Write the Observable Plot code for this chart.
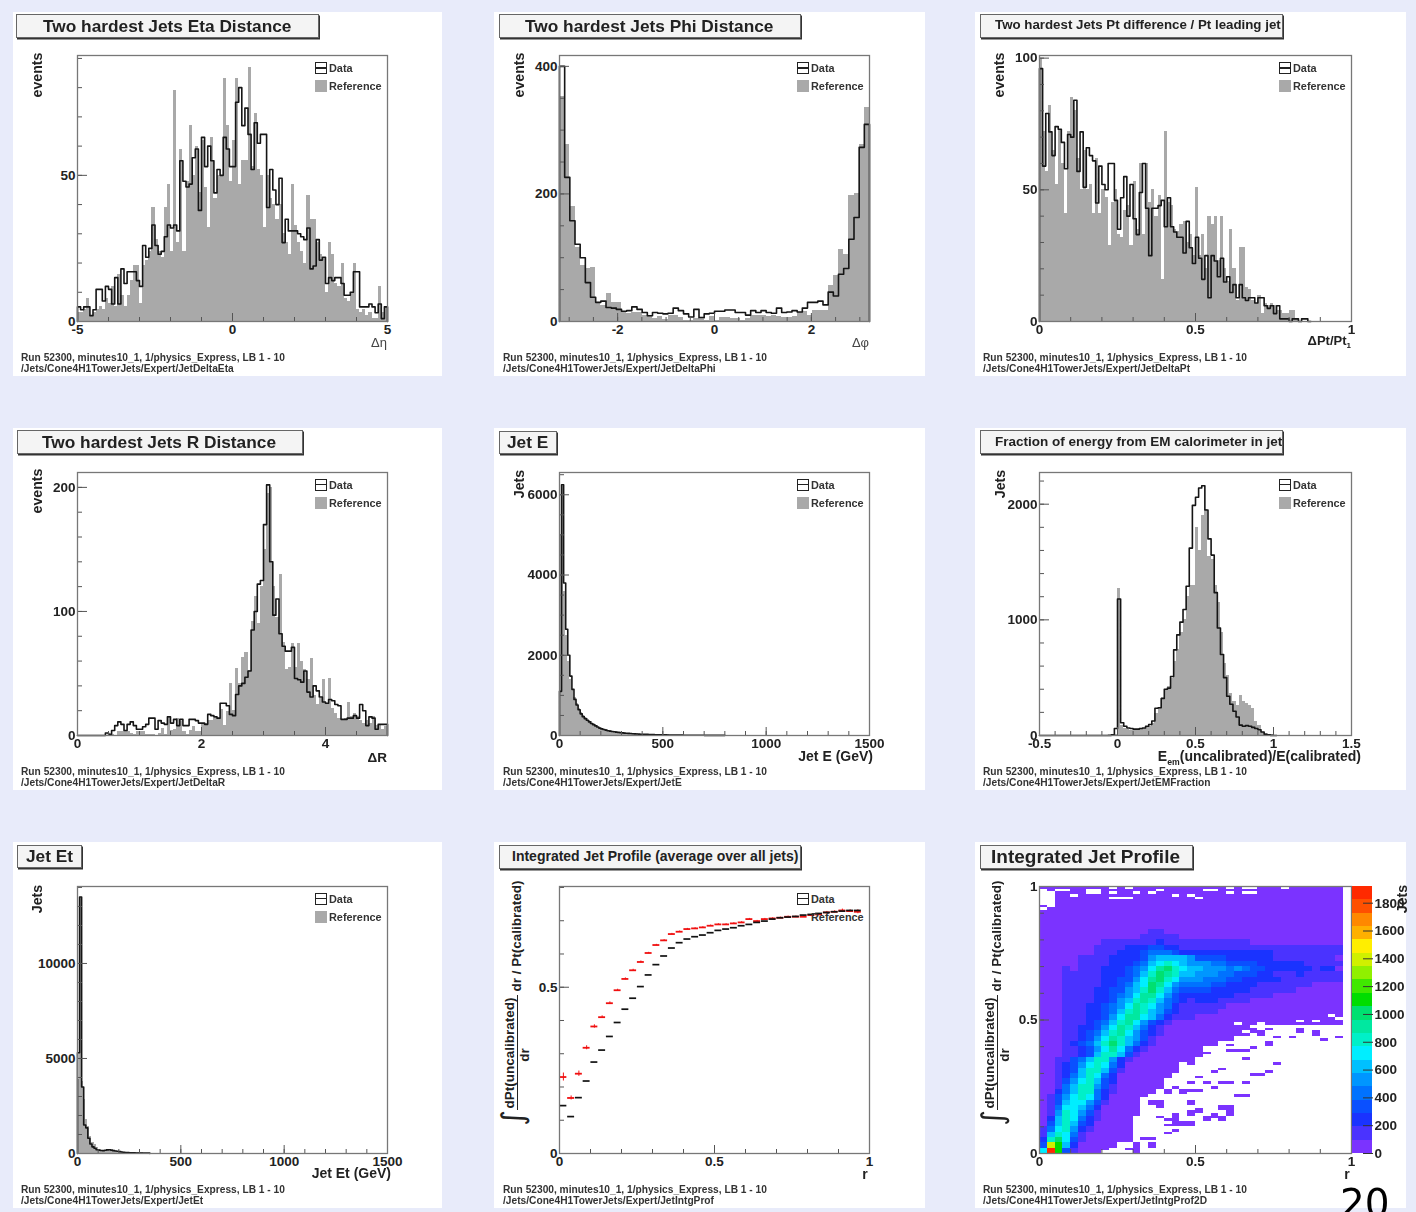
<!DOCTYPE html>
<html>
<head>
<meta charset="utf-8">
<script src="https://cdn.jsdelivr.net/npm/d3@7"></script>
<script src="https://cdn.jsdelivr.net/npm/@observablehq/plot@0.6"></script>
<style>
html,body{margin:0;padding:0;background:#e8ebfa;width:1416px;height:1212px;overflow:hidden;font-family:"Liberation Sans",Arial,sans-serif}
#page{position:relative;width:1416px;height:1212px;overflow:hidden}
.panel{position:absolute;background:#fff}
.soft{position:absolute;left:0;top:0;width:1416px;height:1212px;filter:blur(0.6px)}
.lab{position:absolute;white-space:nowrap;line-height:1;color:#222}
.title{position:absolute;background:#f4f4f4;border:1px solid #666;box-shadow:1px 1.5px 0 #333;box-sizing:border-box;font-weight:bold;color:#222;white-space:nowrap;overflow:hidden;display:flex;align-items:center}
.lab sub{font-size:.62em;line-height:0}
svg{position:absolute;background:transparent}
</style>
</head>
<body>
<div id="page"><div class="soft" id="soft"></div></div>
<script>
// ---------- Values ----------
const etaData=[5,4,5,5,2,4,11,11,7,12,11,6,15,6,18,13,17,17,17,14,12,26,22,25,33,26,23,24,29,33,32,33,31,55,48,46,47,56,59,38,63,53,60,55,44,52,50,63,59,53,53,75,80,67,73,64,52,68,61,64,64,39,52,45,40,49,27,35,31,31,31,30,29,28,32,18,19,28,21,22,13,15,14,15,15,13,9,9,10,17,17,5,5,5,6,5,3,6,1,5];
const etaRef=[3,3,4,8,2,3,4,5,4,8,6,12,5,16,9,5,9,14,19,19,6,19,21,24,39,28,24,22,39,47,24,79,27,59,24,48,67,50,60,44,62,46,32,63,42,50,50,83,67,48,62,83,47,55,55,87,53,71,52,50,32,50,42,40,35,40,30,27,23,47,33,27,24,20,43,35,35,27,23,22,10,27,23,13,12,20,8,7,10,20,4,3,4,2,3,1,1,12,3,5];
const phiData=[400,226,158,121,100,61,38,30,32,22,21,19,16,17,23,19,14,9,14,13,12,13,21,17,12,7,19,6,12,13,16,16,18,18,14,14,10,17,14,17,14,13,21,14,15,17,15,21,30,30,32,26,46,40,74,83,129,163,273,309];
const phiRef=[352,277,181,116,88,83,85,30,25,44,30,30,15,12,14,14,10,8,4,8,3,9,9,7,2,2,5,3,2,8,1,7,6,5,5,1,4,10,10,9,8,9,8,6,6,8,14,15,10,17,17,17,56,72,113,105,197,201,278,336];
const ptData=[96,59,79,72,63,74,73,68,58,71,70,84,57,72,51,66,63,61,45,59,52,50,60,60,46,35,47,55,40,52,39,33,49,60,43,25,43,43,44,46,36,47,36,34,32,32,26,38,28,22,32,24,16,25,9,25,23,17,24,15,17,11,14,9,14,9,8,9,9,7,9,9,6,5,6,3,6,1,1,1,0,1,1,0,1,1,0];
const ptRef=[100,72,57,82,65,52,73,60,41,72,85,80,62,50,65,50,52,41,62,41,50,47,29,45,50,33,32,42,44,29,53,35,60,33,60,45,50,40,48,16,72,45,44,35,34,37,38,30,33,25,51,25,33,20,40,37,40,23,40,20,15,35,20,8,28,28,13,12,8,7,10,3,7,6,7,6,4,4,3,3,4,4,1];
const drData=[0,0,0,0,0,0,0,0,0,2,1,4,8,11,9,4,9,11,8,5,5,7,9,14,14,5,12,10,9,15,10,13,8,13,8,8,13,13,12,10,10,9,17,16,15,14,26,26,24,17,16,33,40,42,47,52,85,100,122,125,170,202,140,97,110,82,72,68,68,71,46,45,43,52,35,31,40,36,31,27,26,29,28,25,24,13,13,14,14,16,14,25,20,8,15,14,5,9,9,9];
const drRef=[0,0,0,0,0,0,0,0,0,0,0,1,0,3,3,3,3,2,1,3,3,3,1,1,1,0,2,6,1,14,4,5,14,11,3,1,4,7,3,3,9,10,12,12,14,14,21,8,19,42,20,54,42,63,67,52,92,112,90,120,150,195,200,120,95,130,75,53,55,74,55,74,60,53,45,62,32,25,30,45,25,46,22,18,14,12,14,27,15,18,15,12,10,12,10,15,8,8,5,7];
const jetEData=[1100,6250,3800,2650,2000,1480,1150,900,760,640,540,470,420,380,340,300,270,240,210,185,165,150,135,120,110,100,92,85,78,72,66,60,56,52,48,44,41,38,35,33,31,29,27,25,23,22,20,19,18,17,16,15,14,13,12,11,11,10,9,9,8,8,7,7,6,6,6,5,5,5,4,4,4,4,3,3,3,3,3,2];
const jetERef=[5000,6200,3600,2500,1850,1400,1150,950,800,680,580,500,450,420,380,340,310,270,240,205,180,160,150,135,120,110,100,90,85,78,70,66,60,55,50,46,43,40,37,34,31,29,27,25,24,22,20,19,18,17,15,14,13,12,11,11,10,9,8,8,7,7,6,6,5,5,5,4,4,4,3,3,3,3,2,2];
const emData=[0,0,0,0,0,0,0,0,0,0,0,0,0,0,0,0,0,0,0,0,0,0,1,5,60,1180,110,80,65,60,55,55,60,65,80,95,125,235,240,320,400,410,510,740,870,980,1090,1290,1620,1990,2060,2140,2160,1950,1700,1560,1235,930,700,500,340,270,210,160,90,80,85,80,70,60,50,30,10,5,1,0];
const emRef=[0,0,0,0,0,0,0,0,0,0,0,0,0,0,0,0,0,0,0,0,0,0,0,0,10,1270,90,60,50,45,45,50,55,60,65,80,100,190,230,330,390,420,490,640,740,890,1000,1200,1300,1300,1800,1600,1900,1950,1550,1520,1300,1150,890,620,520,360,290,260,350,290,280,260,230,120,90,30,15,5,5];
const jetEtData=[5300,13500,3500,1500,1350,800,500,350,280,200,180,160,150,170,190,200,180,150,130,120,100,80,60,50,45,40,38,35,30,28,25,25,20,20,18];
const jetEtRef=[3900,13400,3800,2850,1800,1400,900,600,480,330,200,180,160,170,180,170,160,140,120,100,80,70,60,50,45,40,40,50,40,35,30,30,25,20];
const profData=[.144,.111,.168,.218,.275,.311,.352,.394,.434,.467,.502,.537,.568,.594,.618,.634,.645,.652,.657,.664,.671,.675,.679,.685,.689,.695,.699,.705,.709,.711,.713,.717,.719,.722,.725,.727,.729,.731,.731];
const profRef=[.230,.167,.240,.318,.382,.410,.452,.491,.525,.551,.576,.603,.627,.641,.660,.667,.675,.677,.680,.685,.689,.689,.692,.695,.705,.699,.705,.707,.709,.712,.712,.712,.717,.719,.725,.727,.731,.729,.727];
const profRefErr=[.012,.006,.008,.006,.005,.004,.004,.003,.003,.003,.003,.002,.002,.002,.002,.002,.002,.002,.002,.002,.002,.002,.002,.002,.002,.002,.002,.002,.002,.002,.002,.002,.002,.002,.003,.003,.004,.004,.006];
// 2D histogram: one string per 2% slice of the y axis, bottom slice first; one character per r bin, colour band in base 36; missing bins are band 0
const heatRows=[
"7jb31000","3eb620000","28a731","168741","147852100","036863200","026874210","0158753100","0147764200","0136775310",
"013578742","002468842100","0014688531","0013578632","00124687420","001236886310","001235787420","001134688521","0001123688631","000112357974210",
"000123468a86421","000112357986531","00011234689753210","0001122357986421","000111234689753210","000111223579976421110","00011122346898653211111","000111223457987542111111","000111122356898643212221111","000111122345799753222222211111",
"00011112233568a864333322222111111","00011111223467a97544443322221111111","000111112233579a87555444332222211111111","000111112223468a986655544333221112111111","0001011122234579a876655545433222222122","000001111222346787655544333322222211111","00000111122223566665333322222211111111","000000011122234443222222222222111111111","000000011112223322111111111111111111111","000000001111111211111111111",
"0000000000000111110","000000000000001100"
];
// first 2% slice that is filled, per r bin
const purpleFloor=[0,0,0,0,0,0,0,0,1,1,2,2,7,10,11,12,14,15,17,17,18,20,20,21,21,22,23,24,24,24,24,24,24,24,24,24,24,24,24];
// isolated filled cells below the floor: [r bin, y percent]
const purpleCells=[[12,0],[12,1],[12,2],[12,3],[9,3],[8,1],[11,1],[14,2],[14,3],[13,5],[14,5],[16,7],[17,8],[16,10],[17,11],[18,11],[19,11],[15,13],[16,12],[17,10],[18,10],[19,10],[17,12],[17,13],[17,14],[19,14],[20,15],[21,12],[23,12],[22,13],[21,13],[23,13],[22,14],[24,14],[19,15],[24,15],[20,16],[23,16],[24,16],[23,17],[24,17],[15,17],[14,19],[15,19],[19,18],[14,18],[15,18],[16,22],[16,23],[17,24],[18,22],[18,23],[19,19],[25,21],[26,21],[19,23],[20,23],[22,24],[19,26],[21,26],[23,26],[24,26],[26,26],[20,28],[27,29],[28,29],[22,30],[29,30],[23,31],[30,33],[18,35],[19,33],[26,35],[21,37],[24,38],[25,38],[26,38],[27,39],[21,40],[24,40],[29,40],[29,41],[36,42],[30,43],[32,43],[38,43],[24,43],[24,44],[25,44],[26,44],[28,44],[25,45],[27,45],[28,45],[33,45],[35,45],[35,44],[29,46],[33,46],[26,46],[27,46]];
// holes left inside the filled area: [r bin, y percent]
const whiteCells=[[0,93],[0,94],[0,95],[0,96],[0,97],[1,93],[1,94],[1,95],[1,96],[1,97],[0,91],[1,92],[0,98],[2,98],[3,98],[4,96],[6,97],[6,98],[7,97],[7,98],[9,97],[9,95],[10,95],[11,95],[9,99],[11,99],[12,97],[14,97],[15,98],[17,96],[19,96],[20,95],[21,98],[22,98],[24,97],[24,99],[26,99],[27,99],[26,97],[27,97],[31,99],[25,48],[28,48],[33,49],[35,49],[37,51],[38,50],[13,20],[13,15]];
const bandColors=["#7b33ff","#4a33ff","#1a33ff","#0a50ff","#0072ff","#0096ff","#00c0ff","#00eeff","#00f0c8","#00e8a0","#00e070","#00dd00","#40e800","#90f000","#d0f000","#ffee00","#ffb000","#ff8800","#ff5000","#ff2a00"];
const bandStep=96;

// ---------- Layout ----------
const row1={top:12,h:364,fTop:55,fBot:321}, row2={top:428,h:362,fTop:472,fBot:735}, row3={top:842,h:366,fTop:886,fBot:1153};
const col1={left:13,w:429,fL:77,fR:387}, col2={left:494,w:431,fL:559,fR:869}, col3={left:975,w:431,fL:1039,fR:1351};
const soft=document.getElementById("soft");
const page=document.getElementById("page");
const tickStyle={fontSize:13.5,fontWeight:"bold",fill:"#222"};
const run="Run 52300, minutes10_1, 1/physics_Express, LB 1 - 10";

function lab(html,x,y,o={}){
  const d=document.createElement("div");d.className="lab";d.innerHTML=html;
  const tx=o.anchor==="end"?"-100%":o.anchor==="start"?"0":"-50%";
  Object.assign(d.style,{left:x+"px",top:y+"px",fontSize:(o.size||14.2)+"px",fontWeight:o.weight||"bold",color:o.color||"#222",transform:`translate(${tx},-50%)`+(o.rotate?` rotate(${o.rotate}deg)`:"")});
  if(o.family)d.style.fontFamily=o.family;
  (o.parent||soft).appendChild(d);return d;
}
function box(x,y,w,h,style){const d=document.createElement("div");Object.assign(d.style,{position:"absolute",left:x+"px",top:y+"px",width:w+"px",height:h+"px",boxSizing:"border-box"},style);soft.appendChild(d);return d;}
function title(text,x,y,w,h,size,pad,lift=0){
  const d=document.createElement("div");d.className="title";d.textContent=text;
  Object.assign(d.style,{left:x+"px",top:y+"px",width:w+"px",height:h+"px",fontSize:size+"px",paddingLeft:pad+"px",paddingBottom:lift+"px"});
  soft.appendChild(d);
}
function legend(c,r,hasSwatch=true){
  const sx=c.fR-72, sy=r.fTop+7;
  box(sx,sy,12,12,{border:"1.5px solid #222",background:"linear-gradient(#fff 0 4px,#222 4px 5.5px,#fff 5.5px)"});
  lab("Data",sx+14,sy+6,{anchor:"start",size:10.9,color:"#333"});
  if(hasSwatch)box(sx,sy+18,12,12,{background:"#a9a9a9"});
  lab("Reference",sx+14,sy+24,{anchor:"start",size:10.9,color:"#333"});
}
function footer(c,r,path){
  const y=r.top+r.h-18;
  lab(run,c.fL-56,y,{anchor:"start",size:10.2,color:"#333"});
  lab(path,c.fL-56,y+11,{anchor:"start",size:10.2,color:"#333"});
}
function frameAxes(c,r,a){
  const fmt=d=>String(d);
  return [
    Plot.axisY({ticks:a.yMinor,tickSize:-5,text:null,label:null,stroke:"#555"}),
    Plot.axisY({ticks:a.yMajor,tickSize:-10,text:null,label:null,stroke:"#555"}),
    Plot.axisY({ticks:a.yMajor,tickSize:0,tickPadding:2,label:null,tickFormat:fmt,...tickStyle}),
    Plot.axisX({ticks:a.xMinor,tickSize:-4,text:null,label:null,stroke:"#555"}),
    Plot.axisX({ticks:a.xMajor,tickSize:-8,text:null,label:null,stroke:"#555"}),
    Plot.axisX({ticks:a.xMajor,tickSize:0,tickPadding:3,label:null,tickFormat:fmt,...tickStyle}),
    Plot.frame({stroke:"#777",strokeWidth:1.3})
  ];
}
function place(c,r,marks,a){
  const panelDiv=document.createElement("div");panelDiv.className="panel";
  Object.assign(panelDiv.style,{left:c.left+"px",top:r.top+"px",width:c.w+"px",height:r.h+"px"});
  const svg=Plot.plot({width:c.w,height:r.h,marginLeft:c.fL-c.left,marginRight:c.left+c.w-c.fR,marginTop:r.fTop-r.top,marginBottom:r.top+r.h-r.fBot,
    x:{domain:a.x},y:{domain:a.y},style:{background:"transparent",overflow:"visible",fontFamily:"'Liberation Sans',Arial,sans-serif"},
    marks:[...marks,...frameAxes(c,r,a)]});
  panelDiv.appendChild(svg);soft.appendChild(panelDiv);return panelDiv;
}
function hist(c,r,dataVals,refVals,binW,a){
  const x0=a.x[0];
  const refRows=refVals.map((v,i)=>({a:x0+i*binW,b:x0+(i+1)*binW,v}));
  const line=[{x:x0,v:0},...dataVals.map((v,i)=>({x:x0+i*binW,v}))];
  const end=x0+dataVals.length*binW;
  line.push({x:end,v:dataVals[dataVals.length-1]},{x:end,v:0});
  return place(c,r,[
    Plot.rect(refRows,{x1:"a",x2:"b",y1:()=>0,y2:"v",fill:"#a9a9a9",shapeRendering:"crispEdges"}),
    Plot.line(line,{x:"x",y:"v",curve:"step-after",stroke:"#151515",strokeWidth:1.6})
  ],a);
}
const steps=(a,b,s)=>d3.range(Math.round((b-a)/s)+1).map(i=>+(a+i*s).toFixed(4));

// ---------- Panels ----------
hist(col1,row1,etaData,etaRef,0.1,{x:[-5,5],y:[0,91],yMajor:[0,50],yMinor:steps(0,90,10),xMajor:[-5,0,5],xMinor:steps(-5,5,1)});
hist(col2,row1,phiData,phiRef,6.4/60,{x:[-3.2,3.2],y:[0,417],yMajor:[0,200,400],yMinor:steps(0,400,50),xMajor:[-2,0,2],xMinor:steps(-3,3,.5)});
hist(col3,row1,ptData,ptRef,0.01,{x:[0,1],y:[0,101],yMajor:[0,50,100],yMinor:steps(0,100,10),xMajor:[0,.5,1],xMinor:steps(0,1,.1)});
hist(col1,row2,drData,drRef,0.05,{x:[0,5],y:[0,212],yMajor:[0,100,200],yMinor:steps(0,200,20),xMajor:[0,2,4],xMinor:steps(0,5,.5)});
hist(col2,row2,jetEData,jetERef,10,{x:[0,1500],y:[0,6555],yMajor:[0,2000,4000,6000],yMinor:steps(0,6500,500),xMajor:[0,500,1000,1500],xMinor:steps(0,1500,100)});
hist(col3,row2,emData,emRef,0.02,{x:[-.5,1.5],y:[0,2274],yMajor:[0,1000,2000],yMinor:steps(0,2200,200),xMajor:[-.5,0,.5,1,1.5],xMinor:steps(-.5,1.5,.1)});
hist(col1,row3,jetEtData,jetEtRef,10,{x:[0,1500],y:[0,14050],yMajor:[0,5000,10000],yMinor:steps(0,14000,1000),xMajor:[0,500,1000,1500],xMinor:steps(0,1500,100)});

// profile
const toProf=(vals)=>vals.map((v,i)=>({a:i/40,b:(i+1)/40,c:(i+.5)/40,v,e:profRefErr[i]}));
place(col2,row3,[
  Plot.ruleX(toProf(profRef),{x:"c",y1:d=>d.v-d.e,y2:d=>d.v+d.e,stroke:"#f01010",strokeWidth:1}),
  Plot.ruleY(toProf(profRef),{x1:"a",x2:"b",y:"v",stroke:"#f01010",strokeWidth:1.8,insetLeft:.4,insetRight:.4}),
  Plot.ruleY(toProf(profData),{x1:"a",x2:"b",y:"v",stroke:"#111",strokeWidth:1.7,insetLeft:.4,insetRight:.4})
],{x:[0,1],y:[0,.803],yMajor:[0,.5],yMinor:steps(0,.8,.1),xMajor:[0,.5,1],xMinor:steps(0,1,.1)});

// 2D map
const heatCells=[];
heatRows.forEach((s,j)=>{for(let i=0;i<39;i++){if(j<purpleFloor[i])continue;const ch=s[i];heatCells.push({i,j,level:ch===undefined?0:parseInt(ch,36)});}});
for(let j=heatRows.length;j<50;j++)for(let i=0;i<39;i++)heatCells.push({i,j,level:0});
const bandScale={type:"ordinal",domain:d3.range(20),range:bandColors};
const panel9=document.createElement("div");
const heatSvg=Plot.plot({width:col3.w,height:row3.h,marginLeft:col3.fL-col3.left,marginRight:col3.left+col3.w-col3.fR,marginTop:row3.fTop-row3.top,marginBottom:row3.top+row3.h-row3.fBot,
  x:{domain:[0,1]},y:{domain:[0,1]},color:bandScale,style:{background:"transparent",overflow:"visible",fontFamily:"'Liberation Sans',Arial,sans-serif"},
  marks:[
    Plot.rect(heatCells,{x1:d=>d.i/40,x2:d=>(d.i+1)/40,y1:d=>d.j/50,y2:d=>(d.j+1)/50,fill:"level",shapeRendering:"crispEdges"}),
    Plot.rect(purpleCells,{x1:d=>d[0]/40,x2:d=>(d[0]+1)/40,y1:d=>d[1]/100,y2:d=>(d[1]+1)/100,fill:()=>0,shapeRendering:"crispEdges"}),
    Plot.rect(whiteCells,{x1:d=>d[0]/40,x2:d=>(d[0]+1)/40,y1:d=>d[1]/100,y2:d=>(d[1]+1)/100,fill:"#fff",shapeRendering:"crispEdges"}),
    ...frameAxes(col3,row3,{yMajor:[0,.5,1],yMinor:steps(0,1,.1),xMajor:[0,.5,1],xMinor:steps(0,1,.1)})
  ]});
panel9.className="panel";
Object.assign(panel9.style,{left:col3.left+"px",top:row3.top+"px",width:col3.w+"px",height:row3.h+"px"});
panel9.appendChild(heatSvg);soft.appendChild(panel9);
// colour bar
const barBands=d3.range(20).map(l=>({l,a:l*bandStep,b:(l+1)*bandStep}));
const barSvg=Plot.plot({width:55,height:row3.h,marginLeft:1,marginRight:34,marginTop:row3.fTop-row3.top,marginBottom:row3.top+row3.h-row3.fBot,
  x:{domain:[0,1],axis:null},y:{domain:[0,1920]},color:bandScale,style:{background:"transparent",overflow:"visible",fontFamily:"'Liberation Sans',Arial,sans-serif"},
  marks:[
    Plot.rect(barBands,{x1:()=>0,x2:()=>1,y1:"a",y2:"b",fill:"l",shapeRendering:"crispEdges"}),
    Plot.axisY({anchor:"right",ticks:steps(0,1800,200),tickSize:-10,text:null,label:null,stroke:"#333"}),
    Plot.axisY({anchor:"right",ticks:steps(0,1800,200),tickSize:0,tickPadding:2,label:null,tickFormat:d=>String(d),...tickStyle})
  ]});
Object.assign(barSvg.style,{left:(col3.fR-col3.left)+"px",top:"0"});
panel9.appendChild(barSvg);

// ---------- Titles, legends, labels ----------
title("Two hardest Jets Eta Distance",16,14,303,24,17.3,26);
title("Two hardest Jets Phi Distance",499,14,302,24,17.3,25);
title("Two hardest Jets Pt difference / Pt leading jet",980,14,303,24,13.3,14,4);
title("Two hardest Jets R Distance",17,430,286,24,17.3,24);
title("Jet E",499,431,58,23,17.3,7);
title("Fraction of energy from EM calorimeter in jet",980,430,303,24,13.5,14,2);
title("Jet Et",17,845,65,23,17.3,8);
title("Integrated Jet Profile (average over all jets)",499,845,302,24,14,12,2);
title("Integrated Jet Profile",980,845,213,24,19,10);

[[col1,row1],[col2,row1],[col3,row1],[col1,row2],[col2,row2],[col3,row2],[col1,row3],[col2,row3]].forEach(([c,r],k)=>legend(c,r,k!==7));

footer(col1,row1,"/Jets/Cone4H1TowerJets/Expert/JetDeltaEta");
footer(col2,row1,"/Jets/Cone4H1TowerJets/Expert/JetDeltaPhi");
footer(col3,row1,"/Jets/Cone4H1TowerJets/Expert/JetDeltaPt");
footer(col1,row2,"/Jets/Cone4H1TowerJets/Expert/JetDeltaR");
footer(col2,row2,"/Jets/Cone4H1TowerJets/Expert/JetE");
footer(col3,row2,"/Jets/Cone4H1TowerJets/Expert/JetEMFraction");
footer(col1,row3,"/Jets/Cone4H1TowerJets/Expert/JetEt");
footer(col2,row3,"/Jets/Cone4H1TowerJets/Expert/JetIntgProf");
footer(col3,row3,"/Jets/Cone4H1TowerJets/Expert/JetIntgProf2D");

lab("events",37,75,{rotate:-90});lab("events",519,75,{rotate:-90});lab("events",999,75,{rotate:-90});
lab("events",37,491,{rotate:-90});lab("Jets",519,484,{rotate:-90});lab("Jets",1000,484,{rotate:-90});
lab("Jets",37,899,{rotate:-90});lab("Jets",1402,899,{rotate:-90});

lab("Δη",387,342,{anchor:"end",size:13,weight:"normal",color:"#444"});
lab("Δφ",869,342,{anchor:"end",size:13,weight:"normal",color:"#444"});
lab("ΔPt/Pt<sub>1</sub>",1351,340,{anchor:"end",size:13});
lab("ΔR",387,758,{anchor:"end",size:13.5});
lab("Jet E (GeV)",873,756,{anchor:"end",size:14});
lab("E<sub>em</sub>(uncalibrated)/E(calibrated)",1361,756,{anchor:"end",size:14});
lab("Jet Et (GeV)",391,1173,{anchor:"end",size:14});
lab("r",865,1174,{anchor:"middle",size:14});
lab("r",1347,1174,{anchor:"middle",size:14});

// integral y titles for the two profile panels
[col2,col3].forEach(c=>{
  const o=c.fL-559;
  lab("dPt(uncalibrated)",510+o,1053,{rotate:-90,size:13.5});
  box(517+o,995,1.4,115,{background:"#222"});
  lab("dr",525+o,1055,{rotate:-90,size:13.5});
  lab("dr / Pt(calibrated)",517+o,936,{rotate:-90,size:13.5});
  lab("∫",513+o,1118,{rotate:-90,size:30,weight:"normal",family:"'DejaVu Sans'"});
});

// page number, over the last panel and cut by the window
const pageNo=document.createElement("div");pageNo.className="lab";pageNo.textContent="20";
Object.assign(pageNo.style,{left:"1340px",top:"1184px",fontSize:"39px",fontWeight:"normal",color:"#000",fontFamily:"'DejaVu Sans'"});
page.appendChild(pageNo);
</script>
</body>
</html>
